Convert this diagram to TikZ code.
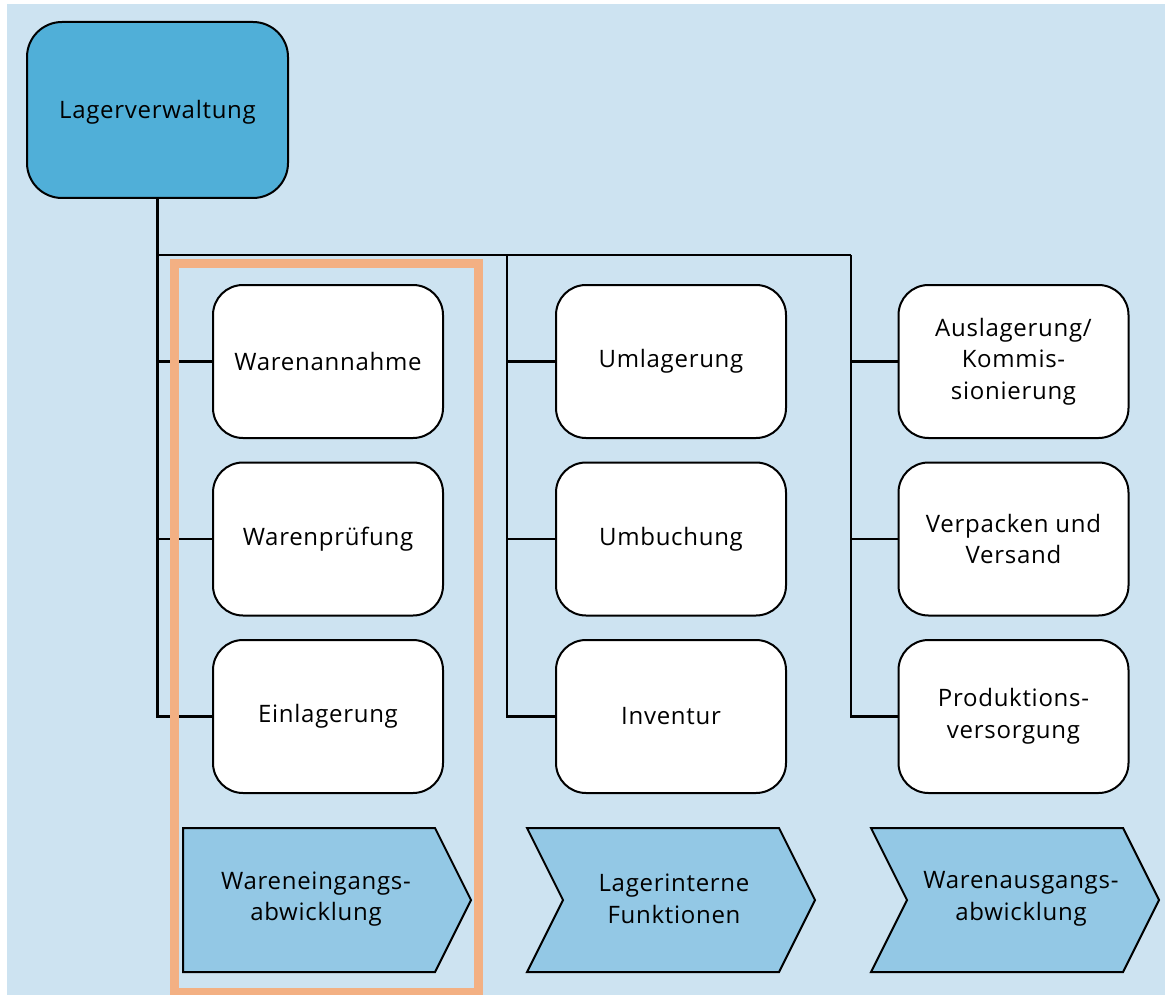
\documentclass[tikz,border=0pt]{standalone}
\usepackage{fontspec}
\setmainfont{Open Sans}[LetterSpace=3]
\usetikzlibrary{backgrounds}
\definecolor{bgblue}{HTML}{CDE3F1}
\definecolor{topblue}{HTML}{50AFD8}
\definecolor{chevblue}{HTML}{93C8E5}
\definecolor{frameorange}{HTML}{F3B083}
\tikzset{
  txt/.style={font=\fontsize{24}{31.5}\selectfont, align=center, text=black},
  topbox/.style={txt, draw=black, line width=2pt, fill=topblue, rounded corners=35pt,
    minimum width=261pt, minimum height=176pt, inner sep=0pt},
  taskbox/.style={txt, draw=black, line width=2pt, fill=white, rounded corners=30pt,
    minimum width=230pt, minimum height=153pt, inner sep=0pt},
  chev/.style={draw=black, line width=2pt, fill=chevblue, line join=miter},
  link/.style={draw=black, line width=2.8pt},
}
\begin{document}
\begin{tikzpicture}[x=1pt,y=-1pt]
\useasboundingbox (0,0) rectangle (1165,995);

% root
\node[topbox, text depth=2pt] (lv) at (157.5,110) {Lagerverwaltung};

% task boxes
\node[taskbox] (a1) at (328,361.5) {Warenannahme};
\node[taskbox] (a2) at (328,539) {Warenprüfung};
\node[taskbox] (a3) at (328,716.5) {Einlagerung};
\node[taskbox] (b1) at (671,361.5) {Umlagerung};
\node[taskbox] (b2) at (671,539) {Umbuchung};
\node[taskbox] (b3) at (671,716.5) {Inventur};
\node[taskbox] (c1) at (1013.5,361.5) {Auslagerung/\\Kommis-\\sionierung};
\node[taskbox] (c2) at (1013.5,539) {Verpacken und\\Versand};
\node[taskbox] (c3) at (1013.5,716.5) {Produktions-\\versorgung};

% page background and bus lines, kept beneath the boxes
\coordinate (j0) at (lv.south |- 0,255);
\coordinate (j1) at (507,255);
\coordinate (j2) at (851,255);
\begin{scope}[on background layer]
\fill[bgblue] (7,4) rectangle (1165,995);
\draw[link] (lv.south) |- (a3.west);
\draw[link] (a1.west) -- (a1.west -| lv.south);
\draw[link] (a2.west) -- (a2.west -| lv.south);
\draw[link] (j0) -- (j2);
\draw[link] (j1) |- (b3.west);
\draw[link] (b1.west) -- (b1.west -| j1);
\draw[link] (b2.west) -- (b2.west -| j1);
\draw[link] (j2) |- (c3.west);
\draw[link] (c1.west) -- (c1.west -| j2);
\draw[link] (c2.west) -- (c2.west -| j2);
\end{scope}

% highlight frame around the first column
\draw[frameorange, line width=9pt] (174.5,264) rectangle (478.5,992);

% process chevrons
\draw[chev] (183,828) -- (435,828) -- (471,900) -- (435,972) -- (183,972) -- cycle;
\draw[chev] (527,828) -- (779,828) -- (815,900) -- (779,972) -- (527,972) -- (563,900) -- cycle;
\draw[chev] (871,828) -- (1123,828) -- (1159,900) -- (1123,972) -- (871,972) -- (907,900) -- cycle;
\node[txt] (p1) at (316,899) {Wareneingangs-\\abwicklung};
\node[txt] (p2) at (674,899) {Lagerinterne\\Funktionen};
\node[txt] (p3) at (1021,899) {Warenausgangs-\\abwicklung};
\end{tikzpicture}
\end{document}
